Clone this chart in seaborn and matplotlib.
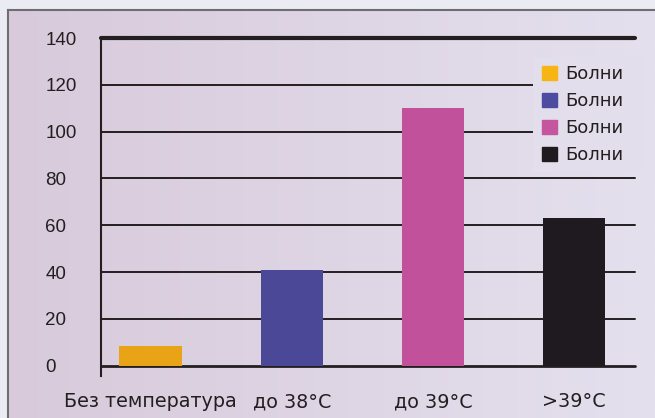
import numpy as np
import pandas as pd
import matplotlib.pyplot as plt
import matplotlib.patches as mpatches
import seaborn as sns

# --- data ---
categories = ['Без температура', 'до 38°C', 'до 39°C', '>39°C']
values = [8.5, 41, 110, 63]
bar_colors = ['#E8A317', '#4B4897', '#C0519A', '#1E1A1F']
legend_colors = ['#F7B513', '#4E4CA0', '#C4559E', '#1E1A1F']
legend_labels = ['Болни', 'Болни', 'Болни', 'Болни']
y_ticks = [0, 20, 40, 60, 80, 100, 120, 140]

df = pd.DataFrame({'cat': categories, 'val': values})

sns.set_style('white')
plt.rcParams['font.family'] = ['Liberation Sans', 'DejaVu Sans']

W, H = 655, 418
fig = plt.figure(figsize=(W / 100, H / 100), dpi=100)
fig.patch.set_facecolor('#EBEBF4')

# background panel with a soft horizontal gradient
bg = fig.add_axes([8 / W, 0, 1 - 8 / W, 1 - 10 / H])
grad = np.linspace(0, 1, 256)[None, :, None]
c0 = np.array([0xD8, 0xCA, 0xDB]) / 255
c1 = np.array([0xE4, 0xE0, 0xEE]) / 255
img = c0 + (c1 - c0) * grad
bg.imshow(img, aspect='auto', extent=[0, 1, 0, 1])
bg.set_xlim(0, 1)
bg.set_ylim(0, 1)
bg.set_xticks([])
bg.set_yticks([])
for s in ['right', 'bottom']:
    bg.spines[s].set_visible(False)
for s in ['left', 'top']:
    bg.spines[s].set_color('#6E6E72')
    bg.spines[s].set_linewidth(1.5)

# main axes
px_per_unit = (365.7 - 38) / 140
ybot = -10 / px_per_unit
ax_left, ax_right = 101 / W, 635 / W
ax_bottom = 1 - 375.7 / H
ax_top = 1 - 38 / H
ax = fig.add_axes([ax_left, ax_bottom, ax_right - ax_left, ax_top - ax_bottom])
ax.patch.set_alpha(0)

for t in y_ticks:
    lw = 3 if t == 140 else (2 if t == 0 else 1.4)
    ax.axhline(t, color='#231F20', lw=lw, zorder=1, clip_on=False)

# legend area hides the gridlines behind it
ax.add_patch(mpatches.Rectangle((533 / W, 1 - 172 / H), 110 / W, 115 / H,
                                transform=fig.transFigure, facecolor='#E3DEEC',
                                edgecolor='none', zorder=2, clip_on=False))

sns.barplot(data=df, x='cat', y='val', hue='cat', palette=bar_colors,
            width=0.44, saturation=1, legend=False, ax=ax, zorder=3,
            linewidth=0, edgecolor='none')

ax.set_xlim(-0.35, 3.43)
ax.set_ylim(ybot, 140)
ax.set_yticks(y_ticks)
ax.set_yticklabels([str(t) for t in y_ticks], ha='left')
ax.tick_params(axis='y', length=7.2, width=1.4, color='#231F20', pad=33,
               labelsize=13.5, labelcolor='#231F20')
ax.tick_params(axis='x', length=0, pad=12, labelcolor='#231F20')
for lab in ax.get_xticklabels():
    lab.set_family('DejaVu Sans')
    lab.set_fontsize(13.8)
ax.set_xlabel('')
ax.set_ylabel('')
for s in ['top', 'right', 'bottom']:
    ax.spines[s].set_visible(False)
ax.spines['left'].set_color('#231F20')
ax.spines['left'].set_linewidth(1.5)

handles = [mpatches.Patch(color=c) for c in legend_colors]
ax_h = 375.7 - 38
leg = ax.legend(handles, legend_labels, loc='upper left',
                bbox_to_anchor=((533 - 101) / (635 - 101), 1 - 18 / ax_h),
                frameon=False, handlelength=0.85, handleheight=0.85,
                handletextpad=0.45, labelspacing=0.5, borderpad=0.5,
                borderaxespad=0,
                prop={'family': 'DejaVu Sans', 'size': 13})
leg.set_zorder(5)
for txt in leg.get_texts():
    txt.set_color('#231F20')

fig.savefig('out.png', dpi=100)
